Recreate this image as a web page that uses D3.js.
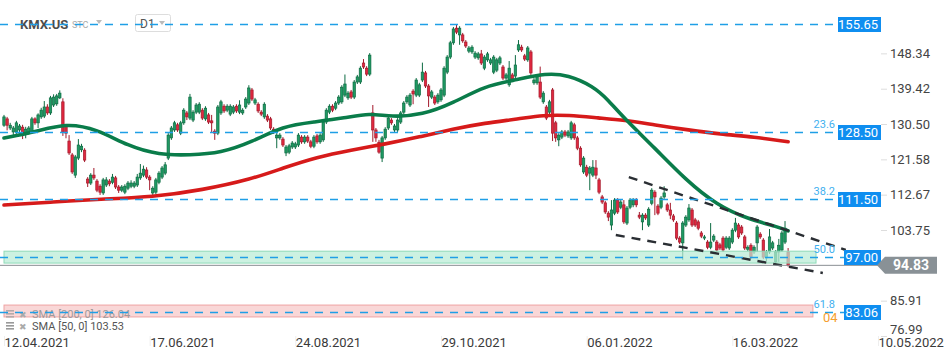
<!DOCTYPE html>
<html>
<head>
<meta charset="utf-8">
<script src="https://cdn.jsdelivr.net/npm/d3@7"></script>
<style>
  body { margin: 0; background: #fff; }
  svg { display: block; font-family: Roboto, "Noto Sans", sans-serif; }
</style>
</head>
<body>
<svg id="chart"></svg>
<script>
// daily candles [open, high, low, close], 12.04.2021 .. 12.04.2022
const ohlc = [
  [130.2,132.8,129.8,132.3],[131.8,132.3,128.9,130.2],[129.5,130.8,129.0,130.2],[128.5,130.0,127.3,129.5],
  [128.5,131.3,128.0,130.8],[129.0,130.5,128.5,130.0],[129.7,130.3,126.7,128.2],[128.2,129.8,126.9,129.2],
  [128.3,130.0,127.8,129.5],[128.5,132.3,128.0,131.8],[131.8,132.2,130.3,130.8],[130.8,133.2,129.5,132.8],
  [132.3,134.6,131.8,134.0],[132.5,136.3,132.0,134.8],[134.8,135.5,132.8,133.3],[133.3,137.6,132.8,137.1],
  [135.3,138.0,134.8,137.3],[135.6,138.1,135.1,137.6],[137.1,139.0,136.8,138.3],[136.1,137.0,127.5,128.5],
  [130.0,130.5,126.9,128.2],[126.2,127.7,122.7,123.2],[122.7,123.2,117.9,118.4],[117.6,122.7,116.9,122.2],
  [121.9,126.7,121.4,125.2],[124.0,125.5,123.4,124.9],[123.9,124.4,120.9,121.4],[116.6,117.1,114.6,115.6],
  [115.6,118.1,115.1,117.6],[117.6,119.4,116.4,116.9],[116.1,116.6,113.3,113.8],[114.8,115.3,112.6,113.3],
  [113.1,116.9,112.6,116.4],[115.1,117.1,114.6,116.4],[116.1,116.6,114.8,115.4],[115.8,117.9,115.3,117.1],
  [116.9,117.4,114.1,114.6],[114.6,115.1,113.1,113.8],[113.8,115.1,113.3,114.6],[113.3,115.3,112.8,114.8],
  [114.3,116.1,113.8,115.6],[114.8,116.3,114.3,115.6],[114.8,116.1,114.3,115.6],[115.1,117.9,114.6,117.1],
  [116.9,120.4,116.4,118.1],[117.6,120.0,117.1,119.1],[118.9,119.6,116.6,117.1],[117.1,117.6,113.8,116.4],
  [113.1,114.8,112.1,114.3],[113.3,116.9,112.8,116.4],[115.8,118.6,115.3,118.1],[117.1,119.9,116.6,119.4],
  [118.1,120.9,117.6,120.2],[121.9,128.2,121.4,127.7],[127.0,130.0,126.5,129.5],[129.0,131.3,128.5,130.8],
  [130.3,130.8,128.5,129.0],[128.2,131.3,127.7,130.8],[130.8,134.5,130.3,134.0],[133.3,133.8,131.5,132.3],
  [132.0,138.1,131.5,137.3],[131.5,134.0,131.0,133.5],[133.5,135.8,133.0,135.3],[133.5,136.0,133.0,135.5],
  [134.0,134.5,131.5,132.0],[131.8,135.0,131.3,134.5],[132.8,133.3,130.5,131.0],[131.3,132.8,128.5,130.8],
  [128.7,129.2,126.5,128.2],[128.2,135.3,127.7,134.8],[133.3,136.6,132.8,136.1],[135.0,135.5,133.3,133.8],
  [134.0,135.5,133.5,135.0],[133.0,135.5,132.5,135.0],[133.5,135.3,133.0,134.8],[135.0,135.5,133.3,133.8],
  [133.5,136.5,133.0,135.3],[133.3,134.5,132.8,134.0],[134.8,137.3,134.3,136.8],[135.8,140.3,135.3,139.6],
  [139.1,139.6,136.3,136.8],[135.8,137.1,135.3,136.6],[135.5,136.0,133.3,133.8],[133.5,134.0,132.5,133.0],
  [132.3,136.0,131.8,135.5],[132.5,133.0,131.0,131.5],[131.8,132.3,129.0,129.5],[129.2,129.7,128.0,128.5],
  [127.0,128.2,124.4,127.7],[127.0,128.2,126.5,127.7],[126.7,127.2,124.7,125.2],[123.2,125.2,122.4,124.7],
  [123.4,125.5,122.9,125.0],[124.7,126.2,124.2,125.7],[124.7,126.0,124.2,125.5],[125.2,128.2,124.7,127.7],
  [127.2,127.7,125.5,126.0],[126.0,127.7,125.5,127.2],[127.2,127.7,125.7,126.2],[126.0,126.5,124.4,124.9],
  [124.9,127.7,124.4,127.2],[127.5,128.0,125.5,126.0],[126.0,128.2,125.5,127.7],[126.5,131.5,126.0,131.0],
  [131.0,134.5,130.5,134.0],[133.5,135.5,133.0,135.0],[135.0,135.5,133.5,134.0],[134.5,136.3,134.0,135.8],
  [135.8,137.8,135.3,137.3],[136.1,140.3,135.6,139.8],[137.8,143.0,137.3,140.6],[137.1,138.8,136.6,138.3],
  [138.6,139.1,136.8,137.3],[137.3,141.6,136.8,141.1],[141.1,142.9,140.6,142.4],[141.1,145.1,140.6,144.6],
  [145.9,146.9,144.4,144.9],[144.6,145.1,142.6,143.1],[143.1,148.4,142.6,147.9],[133.3,135.3,126.0,129.0],
  [129.0,129.5,126.0,127.0],[125.9,126.5,123.0,123.4],[121.9,127.5,120.9,127.0],[127.0,129.7,126.5,129.2],
  [129.5,132.5,129.0,132.0],[131.5,132.0,130.3,130.8],[129.0,130.5,128.5,130.0],[129.0,132.0,128.5,131.5],
  [131.0,133.8,130.5,133.3],[133.5,136.3,133.0,135.8],[136.1,137.8,135.6,137.3],[135.3,138.3,134.8,137.8],
  [138.8,139.3,135.5,138.1],[137.8,142.1,137.3,141.6],[137.8,140.9,137.3,140.4],[141.6,146.0,141.1,143.6],
  [143.4,143.9,139.6,140.1],[140.1,140.6,134.8,137.6],[137.3,139.1,136.8,138.6],[137.3,137.8,135.3,135.8],
  [136.1,138.3,135.6,137.8],[136.6,139.6,136.1,139.1],[137.8,145.1,137.3,144.6],[143.6,147.9,143.1,147.4],
  [147.4,151.5,146.9,151.0],[151.0,155.0,150.5,154.5],[154.7,155.65,153.2,153.7],[153.0,155.2,150.5,154.7],
  [153.0,153.5,151.0,151.5],[151.2,151.7,149.7,150.2],[148.9,150.2,148.4,149.7],[148.7,150.4,148.2,149.9],
  [147.4,148.9,146.9,148.4],[147.2,148.7,146.7,148.2],[148.2,149.2,145.4,145.9],[144.6,147.9,144.1,147.4],
  [146.7,148.7,146.2,148.2],[145.9,147.2,145.4,146.7],[143.6,147.9,143.1,147.4],[144.1,147.2,143.6,146.7],
  [145.9,147.7,145.4,147.2],[144.9,145.4,141.6,142.1],[142.1,143.4,141.6,142.9],[140.4,146.4,139.9,144.6],
  [142.9,143.4,141.4,141.9],[142.6,147.9,142.1,145.4],[149.2,151.7,148.7,150.5],[149.9,150.5,148.7,149.2],
  [147.7,148.2,146.4,146.9],[146.7,150.2,146.2,149.7],[148.7,149.2,142.9,143.4],[140.9,142.1,140.4,141.6],
  [140.9,142.9,140.4,142.4],[141.1,145.0,136.8,137.3],[136.1,138.8,135.6,138.3],[134.8,135.3,131.5,132.0],
  [133.5,136.6,133.0,136.1],[139.1,139.6,126.2,128.2],[130.8,131.3,126.0,127.0],[126.5,128.2,124.9,127.7],
  [127.2,129.0,126.7,128.5],[128.5,129.0,127.2,127.7],[127.5,129.0,127.0,128.5],[127.0,131.3,126.5,130.8],
  [130.3,130.8,126.5,127.0],[127.0,127.5,123.9,124.4],[124.4,124.9,119.7,120.2],[118.4,122.4,117.9,121.9],
  [119.6,120.2,117.1,117.6],[118.1,119.9,113.8,119.4],[117.6,121.4,117.1,119.6],[119.4,121.4,116.6,117.6],
  [116.4,116.9,112.8,113.3],[112.1,112.6,110.3,110.8],[110.6,111.1,107.8,108.3],[108.0,108.5,106.0,107.0],
  [105.0,111.3,103.7,108.8],[108.0,111.8,107.5,111.3],[111.3,111.8,107.8,108.3],[109.5,111.3,109.0,110.8],
  [110.1,111.3,105.3,105.8],[105.5,109.8,105.0,109.3],[109.5,111.8,109.0,111.3],[110.1,111.8,109.5,111.3],
  [111.3,111.8,109.5,110.1],[107.5,108.3,106.5,107.0],[105.8,108.0,103.7,107.5],[107.5,108.0,106.3,106.8],
  [105.0,109.5,104.5,109.0],[110.5,114.3,110.0,113.8],[113.3,113.8,107.5,112.1],[109.8,110.3,107.5,108.0],
  [109.5,112.3,109.0,111.8],[112.1,114.8,111.6,113.1],[110.1,110.6,108.3,108.8],[108.8,110.6,106.5,107.5],
  [107.3,107.8,105.8,106.3],[105.5,106.0,101.2,101.7],[101.7,102.2,100.2,100.7],[100.5,106.0,96.2,105.5],
  [105.0,107.5,104.5,107.0],[106.3,110.3,105.8,109.3],[108.8,109.3,104.5,105.0],[106.3,106.8,104.5,105.0],
  [105.8,106.3,103.7,104.2],[103.0,103.5,101.7,102.2],[101.7,102.5,101.2,102.0],[100.7,101.2,98.9,99.4],
  [99.4,105.5,98.9,100.7],[101.2,102.7,100.7,102.2],[100.7,101.2,98.2,98.7],[100.0,100.5,98.7,99.2],
  [101.7,102.2,98.2,98.7],[99.4,102.2,98.9,101.7],[99.2,102.2,98.7,101.7],[100.7,104.2,100.2,103.7],
  [103.7,106.8,103.2,105.5],[105.0,105.5,101.5,102.0],[104.5,105.0,102.5,103.0],[102.0,102.5,98.7,99.2],
  [98.9,99.9,98.4,99.4],[99.9,100.4,96.4,96.9],[98.2,99.9,97.7,99.4],[100.5,105.0,98.2,104.5],
  [102.7,103.2,101.5,102.0],[101.2,101.7,96.4,96.9],[96.7,98.7,95.9,98.2],[98.2,104.0,97.7,102.0],
  [99.2,101.0,98.7,100.5],[95.7,98.7,95.2,98.2],[98.2,101.5,95.7,99.9],[98.7,103.5,98.2,103.0],
  [100.7,106.0,100.2,104.2],[98.2,99.2,94.5,94.83]
];

// moving averages: candle index -> value
const sma50Idx = [0,10,20,30,40,50,60,70,80,90,100,110,118,125,135,145,155,165,175,182,190,195,200,210,220,230,240,250,253];
const sma50Val = [126.96,128.48,130.75,129.24,124.95,122.67,122.67,123.18,125.96,129.99,131.01,132.02,133.28,132.27,132.77,135.80,140.09,141.61,143.38,142.87,140.09,136.56,132.02,124.44,116.36,110.05,106.51,104.49,103.53];
const sma200Idx = [0,16,31,48,64,80,90,101,112,123,134,145,155,166,174,182,192,200,210,221,231,242,253];
const sma200Val = [110.05,110.81,111.56,112.07,113.84,116.61,119.39,122.17,123.94,125.45,127.22,129.24,130.75,131.76,132.77,132.77,132.02,131.51,130.25,128.99,127.97,127.22,126.04];

const levelPrices = [155.65, 128.50, 111.50, 97.00, 83.06];
const fibTags = ['', '23.6', '38.2', '50.0', '61.8'];
const lastPrice = 94.83;
const yTicks = [148.34, 139.42, 130.50, 121.58, 112.67, 103.75, 85.91, 76.99];
const xTickIdx = [0, 47, 94, 141, 188, 235, 282];
const xTickLabels = ['12.04.2021', '17.06.2021', '24.08.2021', '29.10.2021', '06.01.2022', '16.03.2022', '10.05.2022'];
const greenZone = [95.4, 98.4];
const redZone = [81.8, 84.8];
const zoneEnd = [262, 261];
const wedgeUpper = [[201.6, 117.1], [271.6, 98.7]];
const wedgeLower = [[197.4, 102.5], [264.2, 92.9]];
const sma200Last = 126.04, sma50Last = 103.53;

const W = 950, H = 360;
const svg = d3.select('#chart').attr('width', W).attr('height', H);

const x = d3.scaleLinear().domain([0, 282]).range([4, 878]);
const y = d3.scaleLinear().domain([76.99, 155.65]).range([336, 24.4]);

// header
const head = svg.append('g');
head.append('text').attr('x', 20).attr('y', 29).text('KMX.US')
  .attr('font-size', 13).attr('font-weight', 'bold').attr('fill', '#4d4d4d');
head.append('text').attr('x', 72).attr('y', 28).text('STC')
  .attr('font-size', 9).attr('fill', '#aaa');
head.append('path').attr('d', 'M96,20 L102,20 L99,24 Z').attr('fill', '#bbb');
head.append('rect').attr('x', 135.5).attr('y', 14.5).attr('width', 35).attr('height', 17).attr('rx', 2)
  .attr('fill', '#fff').attr('stroke', '#ddd');
head.append('text').attr('x', 140).attr('y', 28).text('D1').attr('font-size', 12).attr('fill', '#555');
head.append('path').attr('d', 'M159,21 L165,21 L162,25 Z').attr('fill', '#bbb');

// candles
const cg = svg.append('g');
ohlc.forEach((d, i) => {
  const up = d[3] >= d[0];
  const fill = up ? '#1f9a63' : '#e0283f';
  const edge = up ? '#0d6b42' : '#a3192b';
  const cx = x(i);
  cg.append('line').attr('x1', cx).attr('x2', cx).attr('y1', y(d[1])).attr('y2', y(d[2]))
    .attr('stroke', edge).attr('stroke-width', 1);
  const top = y(Math.max(d[0], d[3])), bot = y(Math.min(d[0], d[3]));
  cg.append('rect').attr('x', cx - 1.2).attr('y', top).attr('width', 2.4).attr('height', Math.max(1, bot - top))
    .attr('fill', fill).attr('stroke', edge).attr('stroke-width', 0.7);
});

// zones
svg.append('rect').attr('x', x(0)).attr('y', y(greenZone[1]))
  .attr('width', x(zoneEnd[0]) - x(0)).attr('height', y(greenZone[0]) - y(greenZone[1]))
  .attr('fill', '#b9ecd5').attr('fill-opacity', 0.72).attr('stroke', '#8fdab8');
svg.append('rect').attr('x', x(0)).attr('y', y(redZone[1]))
  .attr('width', x(zoneEnd[1]) - x(0)).attr('height', y(redZone[0]) - y(redZone[1]))
  .attr('fill', '#f8cdcd').attr('fill-opacity', 0.8).attr('stroke', '#efa3a3');

// legend
const leg = svg.append('g');
[[sma200Last, '200', 318, '#a09a9a'], [sma50Last, '50', 330, '#555']].forEach(([v, n, ly, col]) => {
  [8, 5, 2].forEach(o => leg.append('rect').attr('x', 6).attr('y', ly - o).attr('width', 8).attr('height', 1.6)
    .attr('fill', n === '200' ? '#b5aaaa' : '#999'));
  leg.append('text').attr('x', 19).attr('y', ly).text('✖').attr('font-size', 9).attr('fill', '#aaa');
  leg.append('text').attr('x', 32).attr('y', ly).text(`SMA [${n}, 0] ${v.toFixed(2)}`)
    .attr('font-size', 11).attr('fill', col);
});

// moving averages
const maLine = d3.line().x(d => x(d[0])).y(d => y(d[1])).curve(d3.curveBasis);
svg.append('path').attr('d', maLine(d3.zip(sma200Idx, sma200Val)))
  .attr('fill', 'none').attr('stroke', '#d61a1a').attr('stroke-width', 3.6).attr('stroke-linecap', 'round');
svg.append('path').attr('d', maLine(d3.zip(sma50Idx, sma50Val)))
  .attr('fill', 'none').attr('stroke', '#0a7c4a').attr('stroke-width', 3.6).attr('stroke-linecap', 'round');

// wedge
[wedgeUpper, wedgeLower].forEach(seg => {
  svg.append('line').attr('x1', x(seg[0][0])).attr('y1', y(seg[0][1]))
    .attr('x2', x(seg[1][0])).attr('y2', y(seg[1][1]))
    .attr('stroke', '#2a2e33').attr('stroke-width', 2.4).attr('stroke-dasharray', '9,7');
});

// current price line
svg.append('line').attr('x1', 0).attr('x2', 878).attr('y1', y(lastPrice)).attr('y2', y(lastPrice))
  .attr('stroke', '#8a8f93').attr('stroke-width', 1);

// fibonacci levels
const lv = svg.append('g');
levelPrices.forEach((p, k) => {
  const ly = Math.round(y(p)) + 0.5;
  const label = p.toFixed(2);
  const bw = label.length > 5 ? 43 : 37;
  lv.append('line').attr('x1', 0).attr('x2', 881 - bw).attr('y1', ly).attr('y2', ly)
    .attr('stroke', '#1f9fe6').attr('stroke-width', 1.3).attr('stroke-dasharray', '8,7');
  if (fibTags[k]) {
    lv.append('text').attr('x', 835).attr('y', ly - 5).attr('text-anchor', 'end').text(fibTags[k])
      .attr('font-size', 11).attr('fill', '#3fb0ef');
  }
  lv.append('rect').attr('x', 881 - bw).attr('y', ly - 7.5).attr('width', bw).attr('height', 15)
    .attr('fill', '#0f8ef0');
  lv.append('text').attr('x', 878).attr('y', ly + 4.5).attr('text-anchor', 'end').text(label)
    .attr('font-size', 13).attr('fill', '#fff');
});
svg.append('text').attr('x', 823).attr('y', y(83.06) + 10).text('04')
  .attr('font-size', 13).attr('fill', '#f5a030');

// right axis
const yAxis = d3.axisRight(y).tickValues(yTicks).tickSize(6).tickFormat(d3.format('.2f'));
const ya = svg.append('g').attr('transform', 'translate(881,0)').call(yAxis);
ya.select('.domain').remove();
ya.selectAll('line').attr('stroke', '#ddd');
ya.selectAll('text').attr('x', 9).attr('font-size', 13).attr('fill', '#444')
  .attr('font-family', 'Roboto, sans-serif')
  .attr('dy', d => d === 76.99 ? '-0.2em' : '0.32em');

// current price tag
const ty = y(lastPrice);
svg.append('path')
  .attr('d', `M877,${ty} L885,${ty - 8.5} L937,${ty - 8.5} L937,${ty + 8.5} L885,${ty + 8.5} Z`)
  .attr('fill', '#899196');
svg.append('text').attr('x', 911).attr('y', ty + 5).attr('text-anchor', 'middle').text(lastPrice.toFixed(2))
  .attr('font-size', 14).attr('font-weight', 'bold').attr('fill', '#fff');

// bottom axis
const xAxis = d3.axisBottom(x).tickValues(xTickIdx).tickSize(10).tickFormat((d, i) => xTickLabels[i]);
const xa = svg.append('g').attr('transform', 'translate(0,336)').call(xAxis);
xa.select('.domain').remove();
xa.selectAll('line').attr('stroke', '#eee');
xa.selectAll('text').attr('text-anchor', 'start').attr('x', 0).attr('y', 2).attr('dy', '0.71em')
  .attr('font-size', 13).attr('fill', '#3a3a3a').attr('font-family', 'Roboto, sans-serif');
</script>
</body>
</html>
